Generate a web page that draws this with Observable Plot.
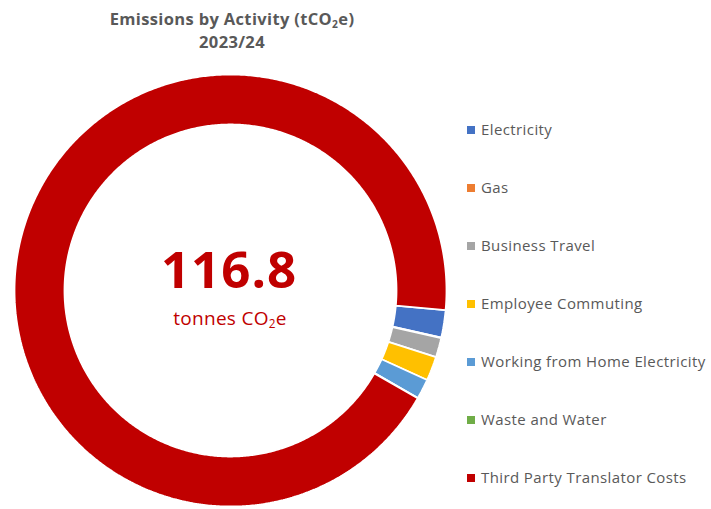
<!DOCTYPE html>
<html><head><meta charset="utf-8">
<script src="https://cdn.jsdelivr.net/npm/d3@7"></script>
<script src="https://cdn.jsdelivr.net/npm/@observablehq/plot@0.6"></script>
<style>
body{margin:0;background:#fff;font-family:"Open Sans",Lato,sans-serif;}
#wrap{position:relative;width:711px;height:509px;overflow:hidden;background:#fff;}
#chart{position:absolute;left:0;top:0;}
.title{position:absolute;left:0;width:464px;text-align:center;top:7px;font-weight:bold;color:#595959;font-size:16.5px;line-height:23px;letter-spacing:0.35px;}
.big{position:absolute;left:30px;width:398px;text-align:center;top:243px;font-weight:bold;color:#C00000;font-size:51px;line-height:50px;letter-spacing:1px;}
.unit{position:absolute;left:30px;width:400px;text-align:center;top:308px;color:#C00000;font-size:19px;line-height:20px;letter-spacing:0.3px;}
sub{font-size:0.62em;vertical-align:-0.25em;line-height:0;}
.leg{position:absolute;left:467px;color:#595959;font-size:15px;line-height:20px;white-space:nowrap;letter-spacing:0.4px;}
.leg span.sw{display:inline-block;width:8px;height:8px;margin-right:6px;vertical-align:1px;}
</style></head>
<body>
<div id="wrap">
  <div class="title">Emissions by Activity (tCO<sub>2</sub>e)<br>2023/24</div>
  <div id="chart"></div>
  <div class="big" id="big"></div>
  <div class="unit">tonnes CO<sub>2</sub>e</div>
  <div id="legend"></div>
</div>
<script>
const categories = ["Electricity","Gas","Business Travel","Employee Commuting","Working from Home Electricity","Waste and Water","Third Party Translator Costs"];
const values = [2.4, 0.05, 1.7, 2.1, 1.75, 0.03, 108.77];
const colors = ["#4472C4","#ED7D31","#A5A5A5","#FFC000","#5B9BD5","#70AD47","#C00000"];
const totalLabel = "116.8";

const startAngle = 95.2; // degrees clockwise from top
const innerRatio = 166/216;
const sum = d3.sum(values);
const pts = [];
let cum = 0;
values.forEach((v, i) => {
  const a0 = startAngle + cum / sum * 360;
  cum += v;
  const a1 = startAngle + cum / sum * 360;
  const n = Math.max(2, Math.ceil((a1 - a0) / 0.5));
  const toXY = (r, a) => ({x: r * Math.sin(a * Math.PI / 180), y: r * Math.cos(a * Math.PI / 180), key: categories[i]});
  for (let k = 0; k <= n; k++) pts.push(toXY(1, a0 + (a1 - a0) * k / n));
  for (let k = n; k >= 0; k--) pts.push(toXY(innerRatio, a0 + (a1 - a0) * k / n));
});

const plot = Plot.plot({
  width: 711, height: 509,
  x: {domain: [-1, 1], range: [14, 446], axis: null},
  y: {domain: [-1, 1], range: [506, 74], axis: null},
  color: {domain: categories, range: colors},
  marks: [
    Plot.line(pts, {x: "x", y: "y", z: "key", fill: "key", stroke: "white", strokeWidth: 1.8, curve: "linear-closed", strokeLinejoin: "miter"})
  ]
});
document.getElementById("chart").appendChild(plot);
document.getElementById("big").textContent = totalLabel;

const leg = document.getElementById("legend");
categories.forEach((c, i) => {
  const d = document.createElement("div");
  d.className = "leg";
  d.style.top = (119 + i * 58) + "px";
  d.innerHTML = `<span class="sw" style="background:${colors[i]}"></span>${c}`;
  leg.appendChild(d);
});
</script>
</body></html>
